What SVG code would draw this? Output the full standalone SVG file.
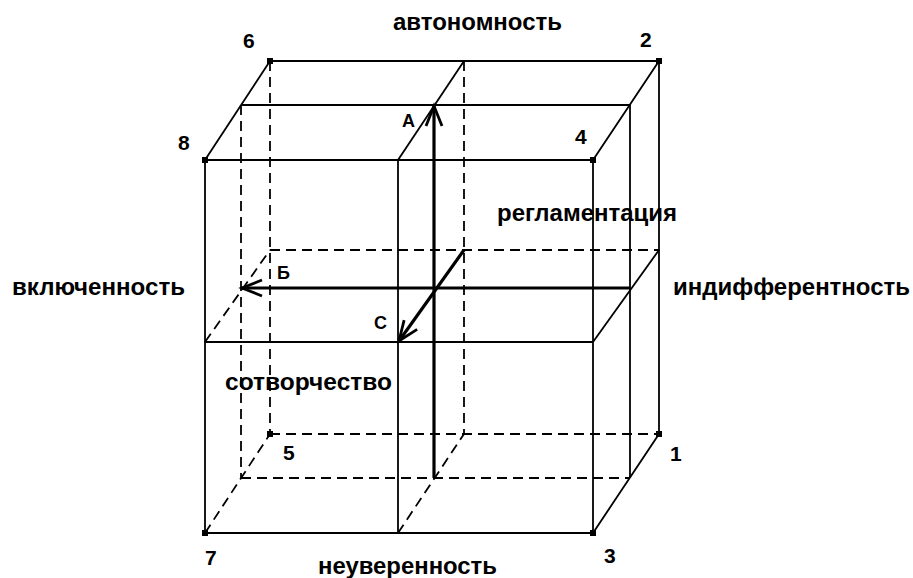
<svg xmlns="http://www.w3.org/2000/svg" width="913" height="578" viewBox="0 0 913 578">
<style>
.s{stroke:#000;stroke-width:1.8;fill:none}
.d{stroke:#000;stroke-width:1.8;fill:none;stroke-dasharray:10 6}
.ax{stroke:#000;stroke-width:3.2;fill:none}
.lbl{font-family:"Liberation Sans",Arial,sans-serif;font-weight:bold;font-size:24px;fill:#000}
.num{font-family:"Liberation Sans",Arial,sans-serif;font-weight:bold;font-size:21px;fill:#000}
.ltr{font-family:"Liberation Sans",Arial,sans-serif;font-weight:bold;font-size:18px;fill:#000}
.pt{fill:#000}
</style>
<defs>
<marker id="arr" markerUnits="userSpaceOnUse" markerWidth="24" markerHeight="20" refX="20" refY="8" orient="auto" overflow="visible">
<path d="M0,0 L20,8 L0,16" fill="none" stroke="#000" stroke-width="2.8"/>
</marker>
</defs>
<rect width="913" height="578" fill="#fff"/>
<g id="connectors">
<line class="d" x1="270" y1="61" x2="270" y2="434"/>
<line class="d" x1="464" y1="61" x2="464" y2="434"/>
<line class="d" x1="241" y1="105" x2="241" y2="478"/>
<line class="d" x1="270" y1="250" x2="659" y2="250"/>
<line class="d" x1="270" y1="434" x2="659" y2="434"/>
<line class="d" x1="241" y1="478" x2="630" y2="478"/>
<line class="d" x1="205" y1="342" x2="270" y2="250"/>
<line class="d" x1="205" y1="533" x2="270" y2="434"/>
<line class="d" x1="398" y1="533" x2="464" y2="434"/>
<line class="s" x1="270" y1="61" x2="659" y2="61"/>
<line class="s" x1="241" y1="105" x2="630" y2="105"/>
<line class="s" x1="205" y1="160" x2="593" y2="160"/>
<line class="s" x1="205" y1="160" x2="270" y2="61"/>
<line class="s" x1="398" y1="160" x2="464" y2="61"/>
<line class="s" x1="593" y1="160" x2="659" y2="61"/>
<line class="s" x1="205" y1="160" x2="205" y2="533"/>
<line class="s" x1="398" y1="160" x2="398" y2="533"/>
<line class="s" x1="593" y1="160" x2="593" y2="533"/>
<line class="s" x1="630" y1="105" x2="630" y2="478"/>
<line class="s" x1="659" y1="61" x2="659" y2="434"/>
<line class="s" x1="205" y1="342" x2="593" y2="342"/>
<line class="s" x1="593" y1="342" x2="659" y2="250"/>
<line class="s" x1="205" y1="533" x2="593" y2="533"/>
<line class="s" x1="593" y1="533" x2="659" y2="434"/>
<line class="ax" x1="434" y1="478" x2="434" y2="106" marker-end="url(#arr)"/>
<line class="ax" x1="630" y1="288" x2="242" y2="288" marker-end="url(#arr)"/>
<line class="ax" x1="464" y1="250" x2="399" y2="341" marker-end="url(#arr)"/>
</g>
<g id="points">
<rect class="pt" x="267" y="58" width="6" height="6"/>
<rect class="pt" x="656" y="58" width="6" height="6"/>
<rect class="pt" x="202" y="157" width="6" height="6"/>
<rect class="pt" x="590" y="157" width="6" height="6"/>
<rect class="pt" x="267" y="431" width="6" height="6"/>
<rect class="pt" x="656" y="431" width="6" height="6"/>
<rect class="pt" x="202" y="530" width="6" height="6"/>
<rect class="pt" x="590" y="530" width="6" height="6"/>
</g>
<g id="n-avtonomnost"><text class="lbl" x="393" y="30" textLength="169" lengthAdjust="spacingAndGlyphs">автономность</text></g>
<g id="n-vklyuchennost"><text class="lbl" x="12" y="295" textLength="173" lengthAdjust="spacingAndGlyphs">включенность</text></g>
<g id="n-indifferentnost"><text class="lbl" x="673" y="295" textLength="237" lengthAdjust="spacingAndGlyphs">индифферентность</text></g>
<g id="n-neuverennost"><text class="lbl" x="318" y="574" textLength="179" lengthAdjust="spacingAndGlyphs">неуверенность</text></g>
<g id="n-reglamentatsiya"><text class="lbl" x="497" y="221" textLength="180" lengthAdjust="spacingAndGlyphs">регламентация</text></g>
<g id="n-sotvorchestvo"><text class="lbl" x="225" y="390" textLength="167" lengthAdjust="spacingAndGlyphs">сотворчество</text></g>
<g id="n-labels">
<text class="num" x="243" y="48">6</text>
<text class="num" x="640" y="47">2</text>
<text class="num" x="178" y="150">8</text>
<text class="num" x="575" y="144">4</text>
<text class="num" x="283" y="460">5</text>
<text class="num" x="670" y="461">1</text>
<text class="num" x="205" y="565">7</text>
<text class="num" x="604" y="563">3</text>
<text class="ltr" x="402" y="127">A</text>
<text class="ltr" x="277" y="279">Б</text>
<text class="ltr" x="374" y="329">C</text>
</g>
</svg>
